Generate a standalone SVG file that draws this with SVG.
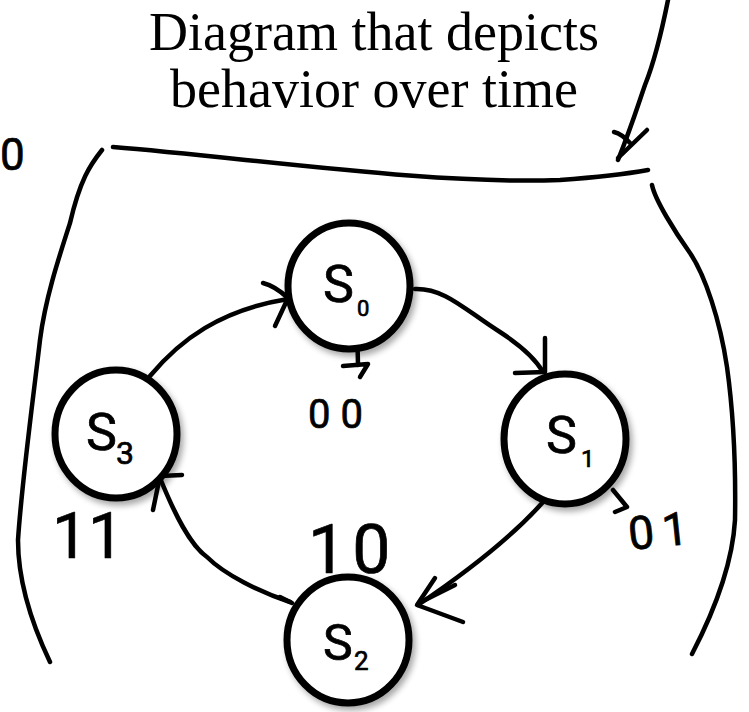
<svg xmlns="http://www.w3.org/2000/svg" width="749" height="712" viewBox="0 0 749 712">
<style>
.title{font-family:"Liberation Serif","Times New Roman",serif;font-size:54px;fill:#000;text-anchor:middle}
.hand{font-family:Roboto,"Liberation Sans",Arial,sans-serif;fill:#000;stroke:#000;stroke-width:0.7;stroke-linejoin:round}
.ln{fill:none;stroke:#000;stroke-width:4.5;stroke-linecap:round;stroke-linejoin:round}
.node{fill:#fff;stroke:#000;stroke-width:7;filter:url(#sh)}
</style>
<defs>
<filter id="sh" x="-20%" y="-20%" width="150%" height="150%">
<feGaussianBlur in="SourceAlpha" stdDeviation="3"/>
<feOffset dx="3" dy="4" result="b"/>
<feComponentTransfer><feFuncA type="linear" slope="0.35"/></feComponentTransfer>
<feMerge><feMergeNode/><feMergeNode in="SourceGraphic"/></feMerge>
</filter>
</defs>
<rect width="749" height="712" fill="#fff"/>
<g id="title">
<text class="title" x="374" y="50">Diagram that depicts</text>
<text class="title" x="374" y="107">behavior over time</text>
</g>
<g id="frame">
<text class="hand" x="0" y="170" font-size="44">0</text>
<path class="ln" d="M113,147 C250,158 430,185 560,180 Q615,176 648,170"/>
<path class="ln" d="M102,150 C90,165 80,180 70,223 C58,260 45,300 40,340 C33,400 22,480 18,540 C18,580 30,620 50,662"/>
<path class="ln" d="M652,185 C655,200 675,232 690,253 C705,275 720,320 727,367 C733,410 736,460 735,520 C733,555 720,600 692,654"/>
<path class="ln" d="M668,0 C662,30 655,60 645,85 C638,105 632,125 618,160"/>
<path class="ln" d="M614,132 Q622,134 630,143 M647,130 L618,158"/>
</g>
<g id="connectors">
<path class="ln" d="M150,376 C180,340 220,310 288,299"/>
<path class="ln" d="M263,283 Q275,286 288,298 L275,326"/>
<path class="ln" d="M415,289 C445,288 465,310 500,332 C520,345 535,358 543,372"/>
<path class="ln" d="M545,338 L545,372 L515,373"/>
<path class="ln" d="M550,494 C520,530 470,570 418,605"/>
<path class="ln" d="M435,578 L417,605 L463,622"/>
<path class="ln" d="M455,585 L425,600"/>
<path class="ln" d="M160,478 C175,515 190,545 207,557 C225,575 260,592 290,602"/>
<path class="ln" d="M182,475 L160,476 L153,510"/>
<path class="ln" d="M280,597 L292,603"/>
<path class="ln" d="M357,323 L358,365 M343,366 L368,364 L360,377"/>
<path class="ln" d="M613,490 L627,507 L615,512"/>
</g>
<g id="S0">
<ellipse class="node" cx="349" cy="286" rx="61" ry="63"/>
<text class="hand" x="323" y="302" font-size="52">S</text>
<text class="hand" x="357" y="316" font-size="22">0</text>
</g>
<g id="S1">
<ellipse class="node" cx="565" cy="439" rx="61" ry="65"/>
<text class="hand" x="546" y="453" font-size="52">S</text>
<text class="hand" x="581" y="467" font-size="24">1</text>
</g>
<g id="S2">
<ellipse class="node" cx="348" cy="640" rx="61" ry="63"/>
<text class="hand" x="323" y="660" font-size="50">S</text>
<text class="hand" x="354" y="670" font-size="26">2</text>
</g>
<g id="S3">
<ellipse class="node" cx="116" cy="434" rx="61" ry="64"/>
<text class="hand" x="86" y="450" font-size="52">S</text>
<text class="hand" x="116" y="464" font-size="32">3</text>
</g>
<g id="outputs">
<text class="hand" x="308" y="428" font-size="40" letter-spacing="10">00</text>
<text class="hand" x="630" y="550" font-size="46" letter-spacing="8" transform="rotate(-6 630 550)">01</text>
<text class="hand" x="308" y="573" font-size="68" letter-spacing="6">10</text>
<text class="hand" x="52" y="558" font-size="64" letter-spacing="0">11</text>
</g>
</svg>
